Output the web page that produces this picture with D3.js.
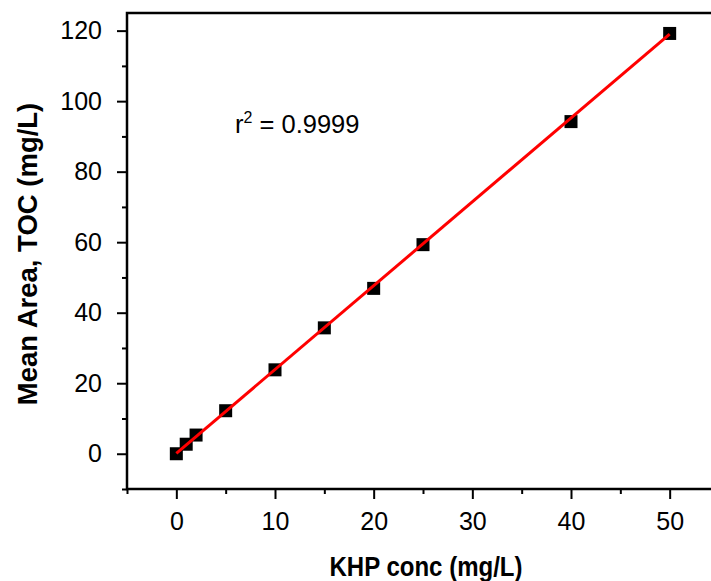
<!DOCTYPE html>
<html>
<head>
<meta charset="utf-8">
<script src="https://cdn.jsdelivr.net/npm/d3@7"></script>
<style>
  body { margin: 0; background: #fff; }
  svg { display: block; font-family: "Liberation Sans", Arial, sans-serif; }
</style>
</head>
<body>
<svg id="chart" width="711" height="581"></svg>
<script>
// KHP calibration data
const khpConc = [0, 1, 2, 5, 10, 15, 20, 25, 40, 50];
const meanArea = [0, 2.7, 5.3, 12.2, 23.8, 35.7, 46.9, 59.3, 94.2, 119.2];
// fitted line ends
const fitX = [0, 50];
const fitY = [0.1, 119.0];
const xTicks = [0, 10, 20, 30, 40, 50];
const yTicks = [0, 20, 40, 60, 80, 100, 120];

const svg = d3.select("#chart");

// plot box (right side runs off the page like the original)
let mLeft = 127, mTop = 13, mBottom = 489, mRight = 719;

const x = d3.scaleLinear().domain([-5, 55]).range([mLeft, mRight]);
const y = d3.scaleLinear().domain([-10, 125]).range([mBottom, mTop]);

// minor ticks
const xMinor = d3.range(-5, 56, 5).filter(v => v % 10 !== 0);
const yMinor = d3.range(-10, 126, 10).filter(v => v % 20 !== 0);

svg.append("g")
    .attr("transform", "translate(0," + mBottom + ")")
    .call(d3.axisBottom(x).tickValues(xMinor).tickSize(5).tickFormat(""))
    .call(g => g.select(".domain").remove())
    .selectAll("line").attr("stroke-width", 2);

svg.append("g")
    .attr("transform", "translate(" + mLeft + ",0)")
    .call(d3.axisLeft(y).tickValues(yMinor).tickSize(5).tickFormat(""))
    .call(g => g.select(".domain").remove())
    .selectAll("line").attr("stroke-width", 2);

// major ticks + labels
let xAxis = svg.append("g")
    .attr("transform", "translate(0," + mBottom + ")")
    .call(d3.axisBottom(x).tickValues(xTicks).tickSize(10).tickPadding(13))
xAxis.select(".domain").remove();
xAxis.selectAll("line").attr("stroke-width", 2);
xAxis.selectAll("text").attr("font-size", 25).attr("font-family", "Liberation Sans, Arial").attr("fill", "#000");

let yAxis = svg.append("g")
    .attr("transform", "translate(" + mLeft + ",0)")
    .call(d3.axisLeft(y).tickValues(yTicks).tickSize(10).tickPadding(15))
yAxis.select(".domain").remove();
yAxis.selectAll("line").attr("stroke-width", 2);
yAxis.selectAll("text").attr("font-size", 25).attr("font-family", "Liberation Sans, Arial").attr("fill", "#000");

// frame
svg.append("path")
    .attr("d", "M" + mRight + "," + mTop + "H" + mLeft + "V" + mBottom + "H" + mRight)
    .attr("fill", "none")
    .attr("stroke", "#000")
    .attr("stroke-width", 2.5);

// points
const pts = khpConc.map((d, i) => ({ x: d, y: meanArea[i] }));
svg.selectAll(".pt").data(pts).join("rect")
    .attr("class", "pt")
    .attr("x", d => x(d.x) - 6.5)
    .attr("y", d => y(d.y) - 6.5)
    .attr("width", 13)
    .attr("height", 13)
    .attr("fill", "#000");

// fit line
svg.append("path")
    .datum(fitX.map((d, i) => [d, fitY[i]]))
    .attr("d", d3.line().x(d => x(d[0])).y(d => y(d[1])))
    .attr("fill", "none")
    .attr("stroke", "#ff0000")
    .attr("stroke-width", 3);

// r squared
let r2 = svg.append("text")
    .attr("x", 235)
    .attr("y", 133)
    .attr("font-size", 25.5)
    .attr("fill", "#000");
r2.append("tspan").text("r");
r2.append("tspan").attr("font-size", 16).attr("dy", -10).text("2");
r2.append("tspan").attr("dy", 10).text(" = 0.9999");

// axis titles
svg.append("text")
    .attr("x", 426)
    .attr("y", 576)
    .attr("text-anchor", "middle")
    .attr("font-size", 27)
    .attr("font-weight", "bold")
    .attr("textLength", 193)
    .attr("lengthAdjust", "spacingAndGlyphs")
    .text("KHP conc (mg/L)");

svg.append("text")
    .attr("transform", "translate(37,254) rotate(-90)")
    .attr("text-anchor", "middle")
    .attr("font-size", 27.5)
    .attr("font-weight", "bold")
    .text("Mean Area, TOC (mg/L)");
</script>
</body>
</html>
